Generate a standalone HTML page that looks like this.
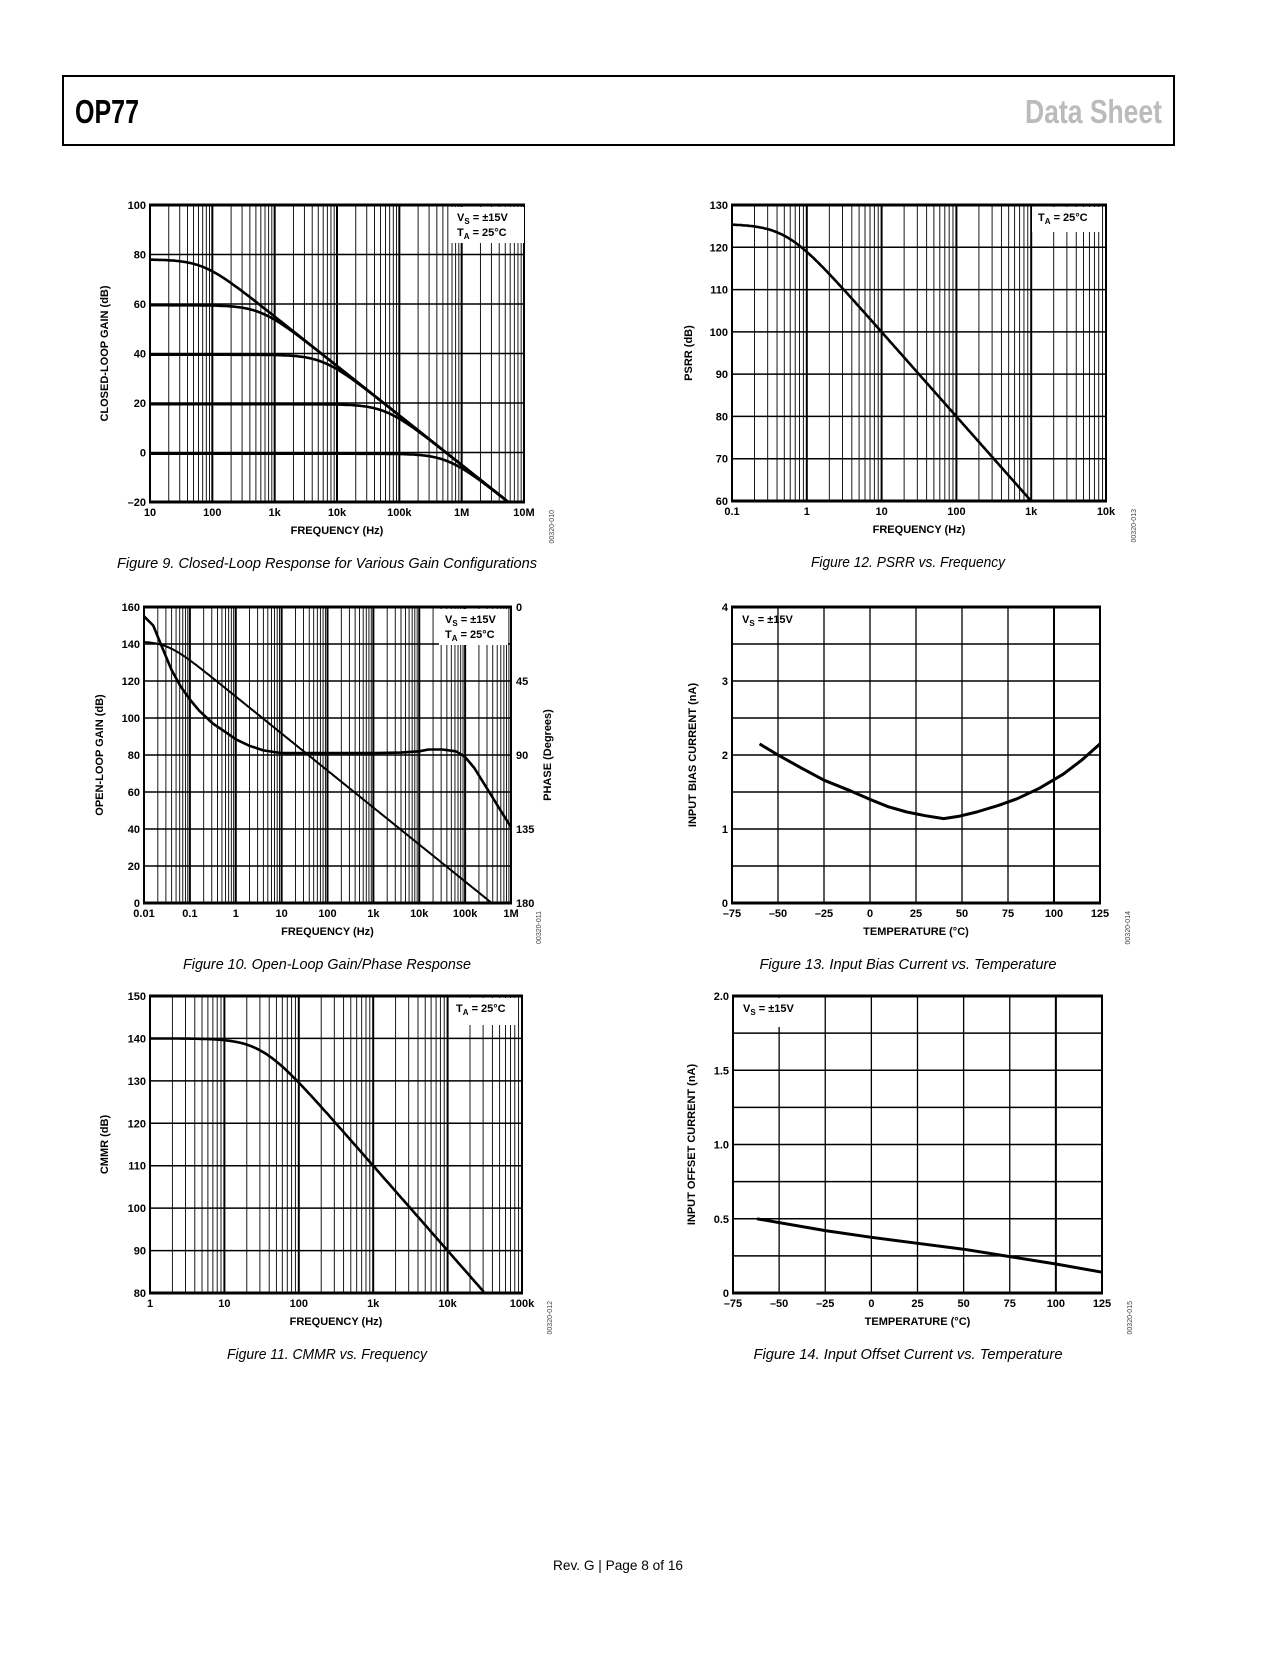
<!DOCTYPE html>
<html><head><meta charset="utf-8"><style>
body{margin:0;background:#fff;}
svg text{font-family:"Liberation Sans",Arial,sans-serif;}
</style></head><body>
<svg id="s" width="1275" height="1650" xmlns="http://www.w3.org/2000/svg"></svg>
<script>
var o=[];
function L(a,b,c,d,w,col){o.push('<line x1="'+a+'" y1="'+b+'" x2="'+c+'" y2="'+d+'" stroke="'+(col||'#000')+'" stroke-width="'+w+'"/>');}
function T(x,y,t,opt){opt=opt||{};o.push('<text x="'+x+'" y="'+y+'" font-size="'+(opt.fs||11)+'" font-weight="'+(opt.fw||'bold')+'" text-anchor="'+(opt.a||'middle')+'"'+(opt.rot?' transform="rotate('+opt.rot+' '+x+' '+y+')"':'')+(opt.fill?' fill="'+opt.fill+'"':'')+(opt.st?' font-style="'+opt.st+'"':'')+(opt.tl?' textLength="'+opt.tl+'" lengthAdjust="spacingAndGlyphs"':'')+'>'+t+'</text>');}
function chart(c){
 var W=c.x1-c.x0,H=c.y1-c.y0;
 c.X=function(v){return c.log? c.x0+(Math.log10(v)-c.lmin)*W/c.dec : c.x0+(v-c.xmin)*W/(c.xmax-c.xmin);};
 c.Y=function(v){return c.y1-(v-c.ymin)*H/(c.ymax-c.ymin);};
 if(c.log){
  for(var d=0;d<c.dec;d++){for(var k=2;k<=9;k++){var x=c.x0+(d+Math.log10(k))*W/c.dec;L(x,c.y0,x,c.y1,0.9);}}
  for(var d=0;d<=c.dec;d++){var x=c.x0+d*W/c.dec;L(x,c.y0,x,c.y1,2);}
 } else {
  for(var v=c.xmin;v<=c.xmax;v+=c.xstep){var x=c.X(v);L(x,c.y0,x,c.y1,v==100?2:1.3);}
 }
 for(var v=c.ymin;v<=c.ymax+1e-9;v+=c.ystep){var y=c.Y(v);L(c.x0,y,c.x1,y,1.5);}
 L(c.x0-1,c.y0,c.x1+1,c.y0,3);L(c.x0-1,c.y1,c.x1+1,c.y1,3);L(c.x0,c.y0,c.x0,c.y1,2);L(c.x1,c.y0,c.x1,c.y1,2);
 if(c.box){var b=c.box;o.push('<rect x="'+b[0]+'" y="'+(c.y0+2)+'" width="'+(b[1]-b[0])+'" height="'+(b[2]-c.y0-2)+'" fill="#fff"/>');
  for(var i=0;i<c.leg.length;i++)T(b[0]+6,c.y0+16+i*15,c.leg[i],{a:'start'});}
 for(var i=0;i<c.xl.length;i++){var x=c.log?c.x0+i*W/c.dec:c.X(c.xmin+i*c.xstep);T(x,c.y1+14,c.xl[i]);}
 for(var i=0;i<c.yl.length;i++){T(c.x0-4,c.Y(c.yl[i][0])+4,c.yl[i][1],{a:'end'});}
 T((c.x0+c.x1)/2,c.y1+32,c.xt);
 T(c.x0-c.yto,(c.y0+c.y1)/2,c.yt,{rot:-90});
 T(c.x1+30,c.y1+8,c.code,{fs:7,fw:'normal',rot:-90,a:'end',fill:'#444'});
 T(c.capx,c.y1+66,c.cap,{fs:15,fw:'normal',st:'italic',tl:c.captl});
}
function path(c,pts,w){var s='';for(var i=0;i<pts.length;i++){s+=(i?'L':'M')+c.X(pts[i][0]).toFixed(1)+' '+c.Y(pts[i][1]).toFixed(1);}o.push('<path d="'+s+'" fill="none" stroke="#000" stroke-width="'+(w||2.6)+'" stroke-linejoin="round"/>');}
function lg(a,b,n,fn){var p=[];for(var i=0;i<=n;i++){var f=Math.pow(10,a+(b-a)*i/n);var v=fn(f);if(v===null)break;p.push([f,v]);}return p;}
function yl(a,b,s,fmt){var r=[];for(var v=a;v<=b+1e-9;v+=s)r.push([v,fmt?fmt(v):(v<0?'–'+(-v):''+v)]);return r;}
var VS='V<tspan font-size="8" dy="3">S</tspan><tspan dy="-3"> = ±15V</tspan>',TA='T<tspan font-size="8" dy="3">A</tspan><tspan dy="-3"> = 25°C</tspan>';

o.push('<rect x="63" y="76" width="1111" height="69" fill="none" stroke="#000" stroke-width="2"/>');
T(75,123,'OP77',{a:'start',fs:33,fw:'bold',tl:64});
T(1162,123,'Data Sheet',{a:'end',fs:33,fw:'bold',fill:'#bbb',tl:137});
T(618,1570,'Rev. G | Page 8 of 16',{fs:14,fw:'normal',tl:130});

var c1={x0:150,x1:524,y0:205,y1:502,log:1,dec:6,lmin:1,ymin:-20,ymax:100,ystep:20,
xl:['10','100','1k','10k','100k','1M','10M'],yl:yl(-20,100,20),xt:'FREQUENCY (Hz)',yt:'CLOSED-LOOP GAIN (dB)',yto:42,
code:'00320-010',cap:'Figure 9. Closed-Loop Response for Various Gain Configurations',capx:327,captl:420,box:[451,524,243],leg:[VS,TA]};
chart(c1);
[78,59.5,39.5,19.5,-0.5].forEach(function(G){path(c1,lg(1,7,300,function(f){var g=-10*Math.log10(Math.pow(10,-G/10)+Math.pow(f/5.6e5,2));return g< -20?null:g;}));});

var c2={x0:732,x1:1106,y0:205,y1:501,log:1,dec:5,lmin:-1,ymin:60,ymax:130,ystep:10,
xl:['0.1','1','10','100','1k','10k'],yl:yl(60,130,10),xt:'FREQUENCY (Hz)',yt:'PSRR (dB)',yto:40,
code:'00320-013',cap:'Figure 12. PSRR vs. Frequency',capx:908,captl:194,box:[1032,1102,232],leg:[TA]};
chart(c2);
path(c2,lg(-1,3.1,200,function(f){var g=125.5-10*Math.log10(1+Math.pow(f/0.53,2));return g<60?null:g;}));

var c3={x0:144,x1:511,y0:607,y1:903,log:1,dec:8,lmin:-2,ymin:0,ymax:160,ystep:20,
xl:['0.01','0.1','1','10','100','1k','10k','100k','1M'],yl:yl(0,160,20),xt:'FREQUENCY (Hz)',yt:'OPEN-LOOP GAIN (dB)',yto:41,
code:'00320-011',cap:'Figure 10. Open-Loop Gain/Phase Response',capx:327,captl:288,box:[439,508,645],leg:[VS,TA]};
chart(c3);
[[160,'0'],[120,'45'],[80,'90'],[40,'135'],[0,'180']].forEach(function(p){T(c3.x1+5,c3.Y(p[0])+4,p[1],{a:'start'});});
T(551,(c3.y0+c3.y1)/2,'PHASE (Degrees)',{rot:-90});
path(c3,lg(-2,5.6,300,function(f){var g=141.5-10*Math.log10(1+Math.pow(f/0.032,2));return g<0?null:g;}),2);
var ph=[[-2,155],[-1.8,150],[-1.6,138],[-1.4,126],[-1.2,117],[-1,110],[-0.8,104],[-0.5,97],[-0.2,92],[0,88.5],[0.3,85],[0.6,82.5],[1,81],[2,81],[3,81],[3.6,81.3],[4,82],[4.2,83],[4.5,83],[4.8,82],[5,79],[5.2,73],[5.4,65],[5.6,57],[5.8,49],[6,41]];
path(c3,ph.map(function(p){return[Math.pow(10,p[0]),p[1]];}),2.6);

var c4={x0:732,x1:1100,y0:607,y1:903,log:0,xmin:-75,xmax:125,xstep:25,ymin:0,ymax:4,ystep:0.5,
xl:['–75','–50','–25','0','25','50','75','100','125'],yl:yl(0,4,1),xt:'TEMPERATURE (°C)',yt:'INPUT BIAS CURRENT (nA)',yto:36,
code:'00320-014',cap:'Figure 13. Input Bias Current vs. Temperature',capx:908,captl:297,box:[736,777,640],leg:[VS]};
chart(c4);
path(c4,[[-60,2.15],[-50,2.0],[-37,1.82],[-25,1.66],[-12,1.53],[0,1.4],[10,1.3],[20,1.23],[30,1.18],[40,1.14],[48,1.17],[58,1.23],[70,1.32],[80,1.41],[92,1.55],[105,1.74],[115,1.93],[125,2.15]],3);

var c5={x0:150,x1:522,y0:996,y1:1293,log:1,dec:5,lmin:0,ymin:80,ymax:150,ystep:10,
xl:['1','10','100','1k','10k','100k'],yl:yl(80,150,10),xt:'FREQUENCY (Hz)',yt:'CMMR (dB)',yto:42,
code:'00320-012',cap:'Figure 11. CMMR vs. Frequency',capx:327,captl:200,box:[450,518,1025],leg:[TA]};
chart(c5);
path(c5,lg(0,4.6,200,function(f){var g=140-10*Math.log10(1+Math.pow(f/31.6,2));return g<80?null:g;}),2.6);

var c6={x0:733,x1:1102,y0:996,y1:1293,log:0,xmin:-75,xmax:125,xstep:25,ymin:0,ymax:2,ystep:0.25,
xl:['–75','–50','–25','0','25','50','75','100','125'],yl:[[0,'0'],[0.5,'0.5'],[1,'1.0'],[1.5,'1.5'],[2,'2.0']],xt:'TEMPERATURE (°C)',yt:'INPUT OFFSET CURRENT (nA)',yto:38,
code:'00320-015',cap:'Figure 14. Input Offset Current vs. Temperature',capx:908,captl:309,box:[737,781,1027],leg:[VS]};
chart(c6);
path(c6,[[-62,0.5],[-25,0.42],[0,0.375],[25,0.335],[50,0.295],[75,0.245],[100,0.195],[125,0.14]],3);

document.getElementById('s').innerHTML=o.join('');
</script>
</body></html>
